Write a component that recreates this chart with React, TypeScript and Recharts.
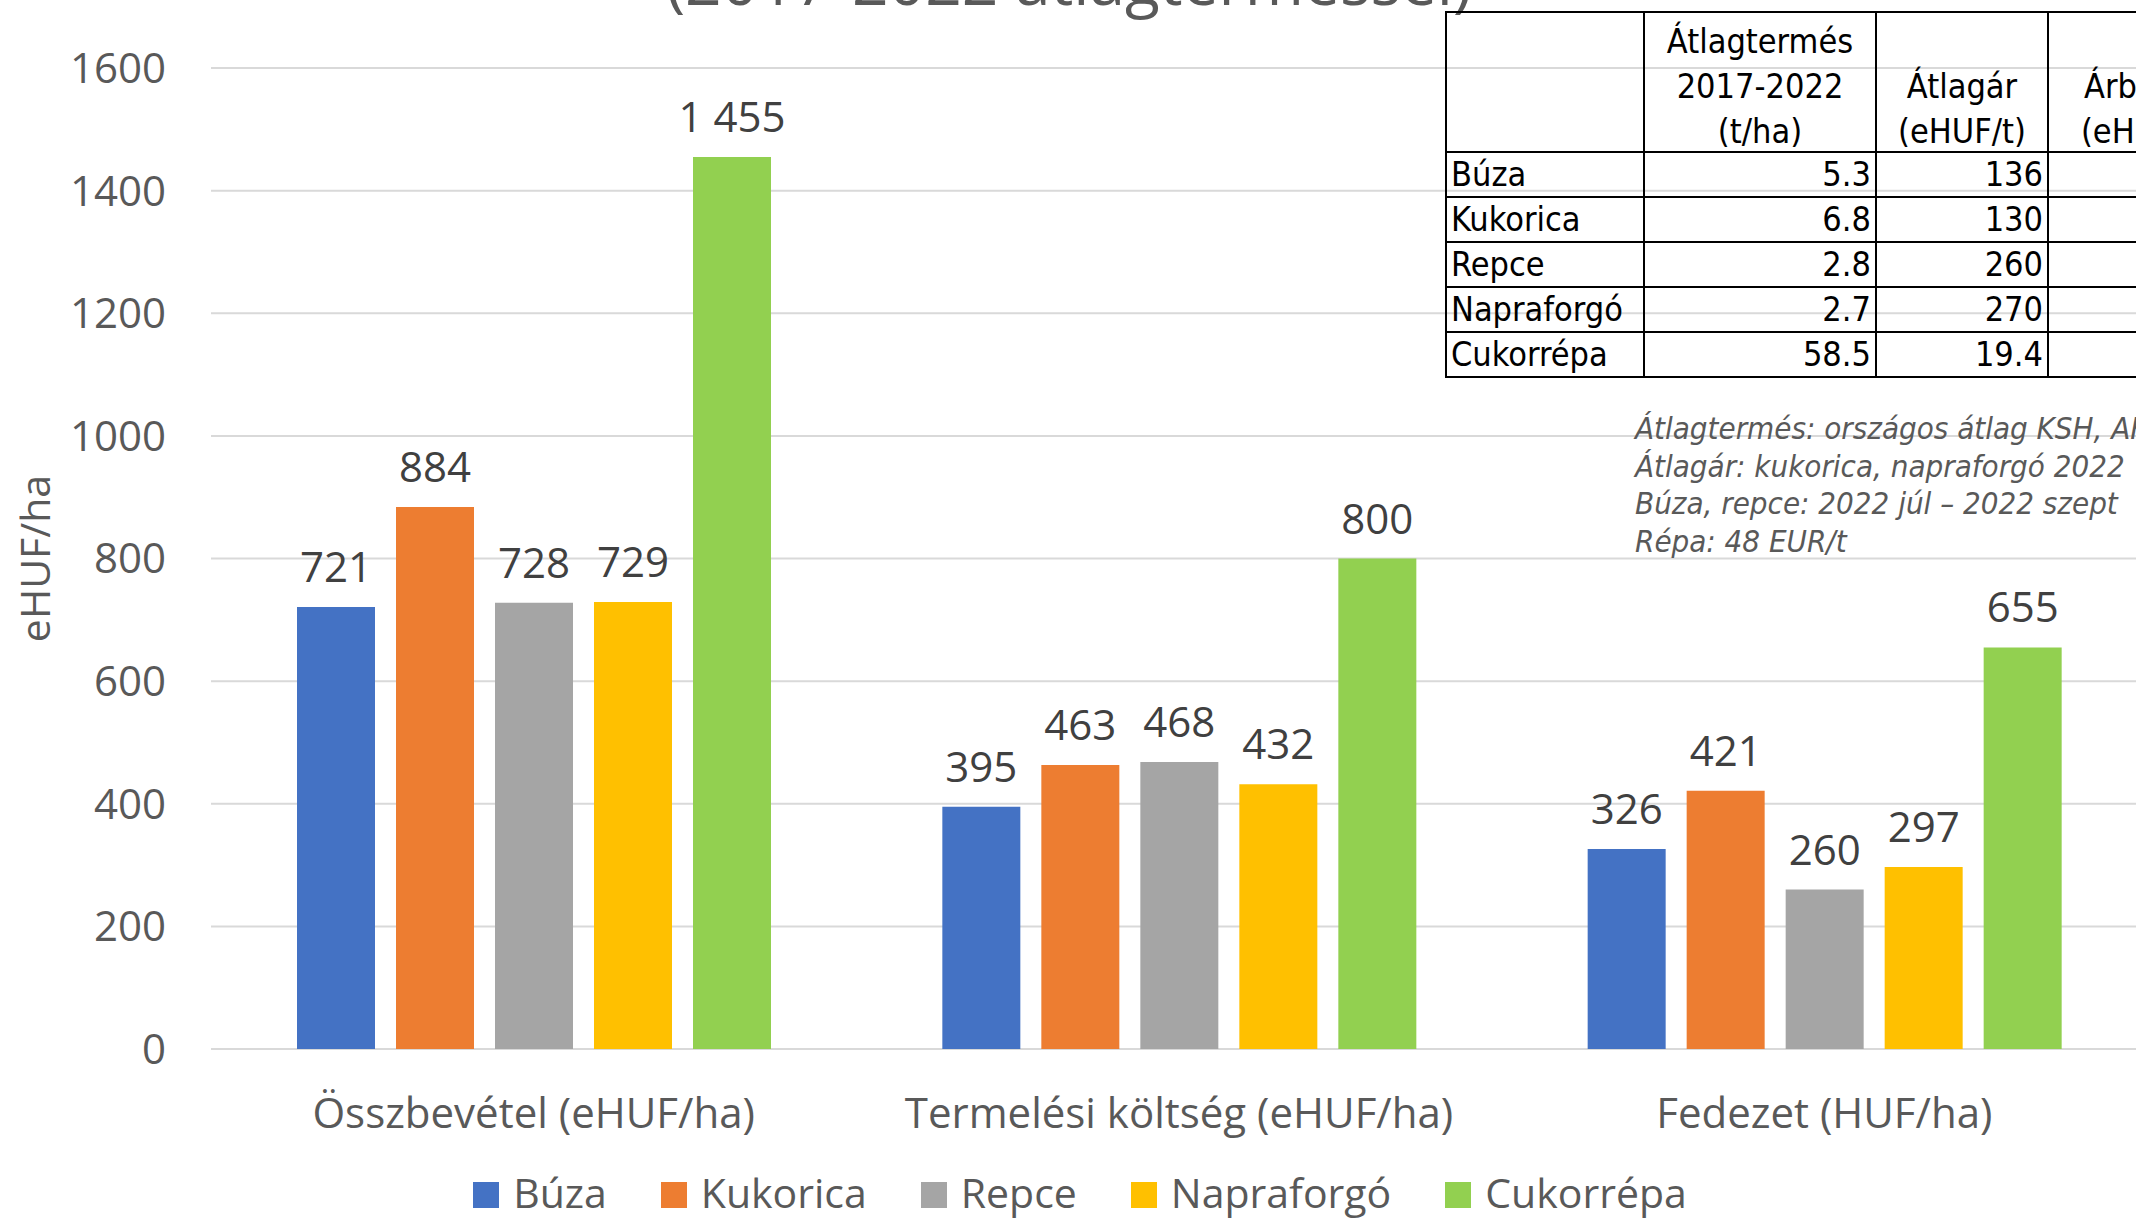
import React from 'react';
import { Bar, BarChart, CartesianGrid, LabelList, Legend, XAxis, YAxis } from 'recharts';

const categories = ['Összbevétel (eHUF/ha)', 'Termelési költség (eHUF/ha)', 'Fedezet (HUF/ha)'];
const buza = [721, 395, 326];
const kukorica = [884, 463, 421];
const repce = [728, 468, 260];
const napraforgo = [729, 432, 297];
const cukorrepa = [1455, 800, 655];
const yTicks = [0, 200, 400, 600, 800, 1000, 1200, 1400, 1600];

const seriesNames = ['Búza', 'Kukorica', 'Repce', 'Napraforgó', 'Cukorrépa'];
const seriesValues = [buza, kukorica, repce, napraforgo, cukorrepa];
const COLORS = ['#4472C4', '#ED7D31', '#A5A5A5', '#FFC000', '#92D050'];

// side table
const tableCrops = ['Búza', 'Kukorica', 'Repce', 'Napraforgó', 'Cukorrépa'];
const avgYield = ['5.3', '6.8', '2.8', '2.7', '58.5'];
const avgPrice = ['136', '130', '260', '270', '19.4'];

const notes = [
  'Átlagtermés: országos átlag KSH, AKI',
  'Átlagár: kukorica, napraforgó 2022',
  'Búza, repce: 2022 júl – 2022 szept',
  'Répa: 48 EUR/t',
];

const TITLE = '(2017-2022 átlagterméssel)';
const GRAY = '#595959';
const FONT = '"Open Sans", sans-serif';
const TABLE_FONT = '"DejaVu Sans Condensed", "DejaVu Sans", sans-serif';

const data = categories.map((cat, i) => {
  const row: Record<string, string | number> = { cat };
  seriesNames.forEach((name, s) => {
    row[name] = seriesValues[s][i];
  });
  return row;
});

const fmt = (v: any) => String(v).replace(/\B(?=(\d{3})+(?!\d))/g, ' ');

function LegendContent() {
  return (
    <div style={{ display: 'flex', justifyContent: 'center', alignItems: 'center', fontFamily: FONT }}>
      {seriesNames.map((name, i) => (
        <div key={name} style={{ display: 'flex', alignItems: 'center', marginLeft: i ? 54 : 0 }}>
          <span style={{ width: 26, height: 26, background: COLORS[i], marginRight: 14, marginTop: 4 }} />
          <span style={{ fontSize: 41, color: GRAY, lineHeight: '41px' }}>{name}</span>
        </div>
      ))}
    </div>
  );
}

function YTitle(props: any) {
  const { viewBox } = props;
  const cx = viewBox.x + 34;
  const cy = viewBox.y + viewBox.height / 2;
  return (
    <text
      x={cx}
      y={cy}
      transform={`rotate(-90 ${cx} ${cy})`}
      textAnchor="middle"
      dominantBaseline="central"
      fontSize={41}
      fill={GRAY}
      fontFamily={FONT}
    >
      eHUF/ha
    </text>
  );
}

const cell: React.CSSProperties = { border: '2px solid #000', padding: '0 4px', height: 43, lineHeight: '41px' };
const head: React.CSSProperties = {
  ...cell,
  height: 136,
  paddingBottom: 2,
  textAlign: 'center',
  verticalAlign: 'bottom',
  lineHeight: '45px',
};
const headInner: React.CSSProperties = { position: 'relative', top: 5 };

export default function App() {
  return (
    <div
      style={{
        position: 'absolute',
        left: 0,
        top: 0,
        width: 2136,
        height: 1221,
        overflow: 'hidden',
        background: '#fff',
        fontFamily: FONT,
      }}
    >
      <BarChart
        width={2160}
        height={1221}
        data={data}
        margin={{ top: 68, right: 13, left: 0, bottom: 0 }}
        barSize={78}
        barGap={21}
      >
        <CartesianGrid vertical={false} stroke="#D9D9D9" strokeWidth={2} />
        <XAxis
          dataKey="cat"
          height={172}
          axisLine={false}
          tickLine={false}
          tickSize={0}
          tickMargin={49}
          interval={0}
          tick={{ fontSize: 42, fill: GRAY, fontFamily: FONT }}
        />
        <YAxis
          width={211}
          domain={[0, 1600]}
          ticks={yTicks}
          axisLine={false}
          tickLine={false}
          tickSize={0}
          tickMargin={45}
          tick={{ fontSize: 42, fill: GRAY, fontFamily: FONT }}
          label={<YTitle />}
        />
        <Legend
          verticalAlign="middle"
          align="center"
          layout="horizontal"
          content={<LegendContent />}
          wrapperStyle={{ top: 1172, left: 0, width: 2160 }}
        />
        {seriesNames.map((name, i) => (
          <Bar key={name} dataKey={name} fill={COLORS[i]} isAnimationActive={false}>
            <LabelList
              dataKey={name}
              position="top"
              offset={25}
              formatter={fmt}
              style={{ fontSize: 42, fill: '#404040', fontFamily: FONT }}
            />
          </Bar>
        ))}
      </BarChart>

      <svg style={{ position: 'absolute', left: 0, top: 0 }} width={2136} height={40}>
        <text x={1069} y={5} textAnchor="middle" fontSize={64} fill={GRAY} fontFamily={FONT}>
          {TITLE}
        </text>
      </svg>

      <table
        style={{
          position: 'absolute',
          left: 1445,
          top: 11,
          borderCollapse: 'collapse',
          tableLayout: 'fixed',
          width: 822,
          fontFamily: TABLE_FONT,
          fontSize: 34,
          color: '#000',
        }}
      >
        <colgroup>
          <col style={{ width: 198 }} />
          <col style={{ width: 232 }} />
          <col style={{ width: 172 }} />
          <col style={{ width: 220 }} />
        </colgroup>
        <tbody>
          <tr>
            <td style={head} />
            <td style={head}>
              <div style={headInner}>
                Átlagtermés
                <br />
                2017-2022
                <br />
                (t/ha)
              </div>
            </td>
            <td style={head}>
              <div style={headInner}>
                Átlagár
                <br />
                (eHUF/t)
              </div>
            </td>
            <td style={head}>
              <div style={headInner}>
                Árbevétel
                <br />
                (eHUF/ha)
              </div>
            </td>
          </tr>
          {tableCrops.map((c, i) => (
            <tr key={c}>
              <td style={{ ...cell, textAlign: 'left' }}>{c}</td>
              <td style={{ ...cell, textAlign: 'right' }}>{avgYield[i]}</td>
              <td style={{ ...cell, textAlign: 'right' }}>{avgPrice[i]}</td>
              <td style={cell} />
            </tr>
          ))}
        </tbody>
      </table>

      <div
        style={{
          position: 'absolute',
          left: 1635,
          top: 410,
          fontFamily: TABLE_FONT,
          fontStyle: 'italic',
          fontSize: 31,
          lineHeight: '37.7px',
          color: GRAY,
          whiteSpace: 'nowrap',
        }}
      >
        {notes.map((n) => (
          <div key={n}>{n}</div>
        ))}
      </div>
    </div>
  );
}
